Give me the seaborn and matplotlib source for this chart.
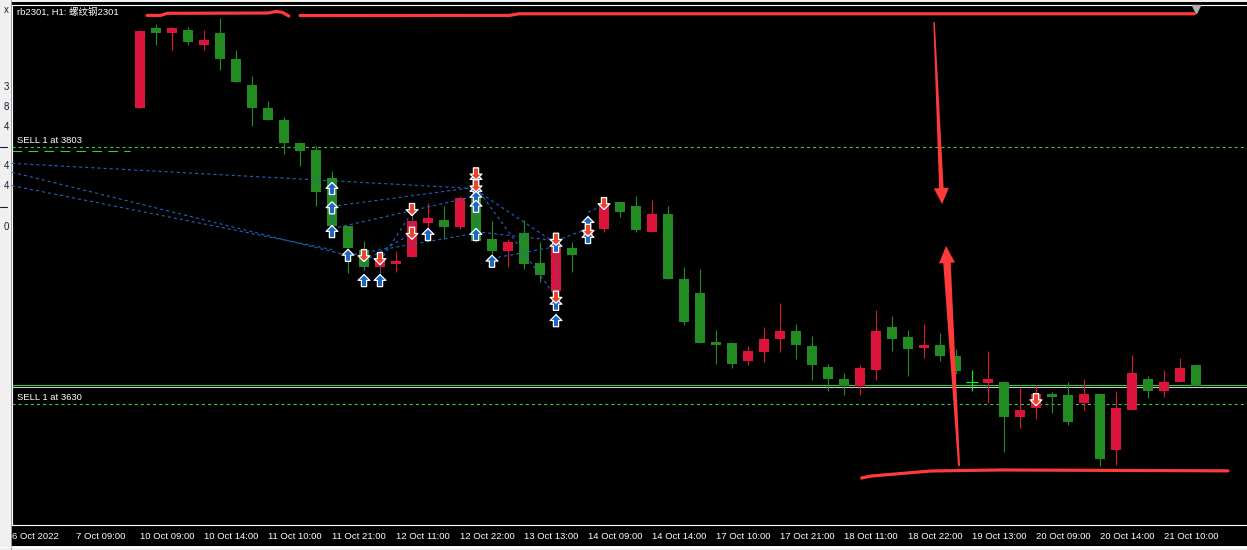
import numpy as np
import pandas as pd
import matplotlib
matplotlib.use("Agg")
import matplotlib.pyplot as plt
from matplotlib.patches import Rectangle, Polygon
from matplotlib.lines import Line2D
import seaborn as sns

# =========================================================
# DATA (rb2301, H1)
# =========================================================

tick_labels = ["6 Oct 2022", "7 Oct 09:00", "10 Oct 09:00", "10 Oct 14:00",
               "11 Oct 10:00", "11 Oct 21:00", "12 Oct 11:00", "12 Oct 22:00",
               "13 Oct 13:00", "14 Oct 09:00", "14 Oct 14:00", "17 Oct 10:00",
               "17 Oct 21:00", "18 Oct 11:00", "18 Oct 22:00", "19 Oct 13:00",
               "20 Oct 09:00", "20 Oct 14:00", "21 Oct 10:00"]

opens = [3829, 3883, 3880, 3882, 3872, 3880, 3862, 3845, 3829, 3821, 3806, 3801,
         3782, 3750, 3734, 3722, 3724, 3729, 3752, 3754, 3749, 3769, 3741, 3733,
         3745, 3725, 3706, 3735, 3744, 3748, 3766, 3763, 3746, 3758, 3714, 3705,
         3672, 3671, 3659, 3665, 3674, 3679, 3669, 3655, 3647, 3642, 3653, 3682,
         3675, 3668, 3670, 3662, 3645, 3644, 3645, 3621, 3627, 3637, 3636, 3631,
         3637, 3599, 3626, 3647, 3639, 3645, 3656]
highs = [3882, 3886, 3884, 3884, 3882, 3890, 3868, 3851, 3834, 3823, 3806, 3804,
         3787, 3750, 3740, 3729, 3733, 3757, 3765, 3763, 3770, 3772, 3753, 3741,
         3754, 3739, 3740, 3739, 3753, 3767, 3766, 3770, 3767, 3763, 3722, 3721,
         3680, 3671, 3669, 3682, 3698, 3684, 3676, 3657, 3651, 3656, 3693, 3689,
         3680, 3684, 3678, 3667, 3653, 3666, 3645, 3641, 3643, 3638, 3645, 3647,
         3637, 3639, 3663, 3649, 3653, 3661, 3656]
lows = [3829, 3872, 3868, 3872, 3868, 3855, 3847, 3817, 3821, 3798, 3790, 3763,
        3750, 3718, 3720, 3720, 3719, 3729, 3741, 3741, 3748, 3739, 3729, 3722,
        3721, 3712, 3697, 3719, 3741, 3746, 3756, 3746, 3746, 3714, 3683, 3671,
        3657, 3654, 3656, 3658, 3665, 3660, 3646, 3639, 3636, 3636, 3646, 3666,
        3649, 3661, 3659, 3650, 3639, 3631, 3598, 3614, 3620, 3624, 3616, 3626,
        3588, 3589, 3626, 3634, 3635, 3645, 3642]
closes = [3881, 3880, 3883, 3874, 3875, 3862, 3847, 3829, 3821, 3806, 3800, 3773,
          3750, 3735, 3722, 3727, 3726, 3753, 3755, 3749, 3769, 3740, 3733, 3739,
          3724, 3717, 3736, 3730, 3748, 3764, 3759, 3747, 3758, 3714, 3685, 3671,
          3670, 3657, 3666, 3674, 3679, 3670, 3656, 3647, 3642, 3654, 3679, 3674,
          3667, 3670, 3662, 3652, 3645, 3647, 3621, 3626, 3637, 3635, 3618, 3637,
          3593, 3627, 3651, 3639, 3645, 3654, 3642]

# trade arrows (bar index, price)
buy_bars = [12, 12, 12, 13, 14, 15, 18, 21, 21, 21, 21, 21, 22, 26, 26, 26, 28, 28]
buy_prices = [3775, 3762, 3746, 3730, 3713, 3713, 3744, 3781, 3773, 3769, 3763,
              3744, 3726, 3736, 3697, 3686, 3752, 3742]
sell_bars = [14, 15, 17, 17, 21, 21, 26, 26, 28, 29, 56]
sell_prices = [3730, 3728, 3761, 3745, 3785, 3777, 3741, 3702, 3747, 3765, 3633]

# trade history lines: (bar from, price from, bar to, price to)
trade_lines = [(-8, 3792, 21, 3775), (-8, 3786, 13, 3730), (-8, 3777, 12, 3734),
               (12, 3748, 21, 3770), (12, 3763, 21, 3776), (13, 3730, 21, 3745),
               (14, 3726, 17, 3745), (15, 3726, 17, 3759), (21, 3776, 26, 3702),
               (21, 3774, 26, 3738), (21, 3746, 26, 3740), (22, 3728, 26, 3736),
               (26, 3740, 28, 3748), (28, 3759, 29, 3764),
               (12, 3775, 12, 3746), (14, 3730, 14, 3713), (15, 3728, 15, 3713),
               (17, 3761, 17, 3745), (21, 3785, 21, 3744), (26, 3741, 26, 3686),
               (28, 3757, 28, 3742)]

sell_levels = [3803, 3630]
bid_price = 3641.5
ask_price = 3643

# hand drawn red marks (bar, price)
red_top1_x = [0.44, 1.3, 1.7, 8.0, 8.5, 8.9, 9.3]
red_top1_y = [3891.6, 3891.6, 3893.0, 3893.2, 3894.3, 3893.6, 3891.2]
red_top2_x = [10.0, 23.1, 23.7, 65.9]
red_top2_y = [3891.5, 3891.6, 3892.7, 3892.7]
red_bot_x = [45.1, 45.7, 49.4, 53.8, 68.0]
red_bot_y = [3580.2, 3581.5, 3584.9, 3585.6, 3585.0]

# =========================================================
# STYLE
# =========================================================

sns.set_theme(style="dark", rc={"axes.facecolor": "black", "figure.facecolor": "#f0f0f0"})
plt.rcParams["font.family"] = ["Liberation Sans", "Noto Sans CJK SC", "DejaVu Sans"]
plt.rcParams["lines.scale_dashes"] = False

RED = "#DC143C"
GREEN = "#228B22"
LIME = "#00FF00"
BLUE = "#1F66C4"
SELLC = "#E8462A"
MARK = "#FF3A3A"
W, H = 1247, 550

fig = plt.figure(figsize=(W / 100, H / 100), dpi=100)
fig.add_artist(Rectangle((11 / W, 4 / H), 1, 544 / H, transform=fig.transFigure,
                         facecolor="black", edgecolor="none", zorder=-2))
fig.add_artist(Line2D([10.5 / W] * 2, [0, 1], transform=fig.transFigure, color="#a0a0a0", lw=0.7))
fig.add_artist(Line2D([0, 1], [3.5 / H] * 2, transform=fig.transFigure, color="white", lw=0.8))

ax = fig.add_axes([12 / W, 25 / H, (W - 12) / W, 520 / H])
ax.set_facecolor("black")
ax.set_xlim(-8, -8 + (W - 12) / 16)
ax.set_ylim(3548.55, 3898.6)

# =========================================================
# CANDLES
# =========================================================

df = pd.DataFrame({"open": opens, "high": highs, "low": lows, "close": closes})
df["bar"] = np.arange(len(df))
df["color"] = np.where(df.close > df.open, RED, np.where(df.close < df.open, GREEN, LIME))

ax.vlines(df.bar, df.low, df.high, colors=df.color, lw=0.8, zorder=2)
body = df[df.close != df.open]
ax.bar(body.bar, np.maximum((body.close - body.open).abs(), 0.9),
       bottom=np.minimum(body.open, body.close), width=0.66, color=body.color,
       lw=0, zorder=3)
doji = df[df.close == df.open]
ax.hlines(doji.close, doji.bar - 0.36, doji.bar + 0.36, colors=LIME, lw=0.8, zorder=3)

# =========================================================
# LEVELS AND TRADES
# =========================================================

for lvl in sell_levels:
    ax.axhline(lvl, color="#3ACF3A", lw=0.8, ls=(0, (2.2, 2.2)), zorder=1)
    ax.text(-7.7, lvl + 1.6, f"SELL 1 at {lvl}", color="white", fontsize=6.8,
            va="bottom", ha="left", zorder=6)
ax.plot([-8, -0.6], [3800.3, 3800.3], color="#3ACF3A", lw=0.8, ls=(0, (7, 4.5)), zorder=1)

ax.axhline(ask_price, color="#32CD32", lw=0.8, zorder=1.5)
ax.axhline(bid_price, color="#C8C8C8", lw=0.8, zorder=1.5)

for b0, p0, b1, p1 in trade_lines:
    ax.plot([b0, b1], [p0, p1], color=BLUE, lw=0.8, ls=(0, (2.2, 2.2)), zorder=4)

up_arrow = [(0, 1), (0.95, 0.05), (0.42, 0.05), (0.42, -0.95), (-0.42, -0.95),
            (-0.42, 0.05), (-0.95, 0.05), (0, 1)]
down_arrow = [(x, -y) for x, y in up_arrow]

trades = pd.concat([
    pd.DataFrame({"bar": buy_bars, "price": buy_prices, "side": "buy"}),
    pd.DataFrame({"bar": sell_bars, "price": sell_prices, "side": "sell"}),
])
sns.scatterplot(data=trades, x="bar", y="price", hue="side", style="side",
                palette={"buy": BLUE, "sell": SELLC},
                markers={"buy": up_arrow, "sell": down_arrow},
                s=80, edgecolor="white", linewidth=0.9, legend=False, ax=ax, zorder=5)
ax.set_xlabel("")
ax.set_ylabel("")

ax.plot([66], [0.992], marker="v", color="#b0b0b0", ms=6,
        transform=ax.get_xaxis_transform(), clip_on=False, zorder=6)

# =========================================================
# RED HAND-DRAWN MARKS
# =========================================================

for xs, ys in [(red_top1_x, red_top1_y), (red_top2_x, red_top2_y), (red_bot_x, red_bot_y)]:
    ax.plot(xs, ys, color=MARK, lw=2.3, solid_capstyle="round", zorder=7)

fig.canvas.draw()


def tapered_arrow(tail, tip, w_tail, w_base, head_w, head_len):
    t, p = ax.transData.transform([tail, tip])
    d = (p - t) / np.linalg.norm(p - t)
    n = np.array([-d[1], d[0]])
    base = p - d * head_len
    pts = [t + n * w_tail / 2, base + n * w_base / 2, base + n * head_w / 2, p,
           base - n * head_w / 2, base - n * w_base / 2, t - n * w_tail / 2]
    data_pts = ax.transData.inverted().transform(pts)
    ax.add_patch(Polygon(data_pts, closed=True, facecolor=MARK, edgecolor="none", zorder=7))


tapered_arrow((49.63, 3887.1), (50.13, 3764.6), 1.5, 4.5, 15, 16)
tapered_arrow((51.19, 3588.3), (50.375, 3736.4), 2.0, 7.5, 16, 17)

# =========================================================
# AXES / TEXT
# =========================================================

ax.set_xticks(np.arange(-8, -8 + 4 * len(tick_labels), 4))
ax.set_xticklabels(tick_labels, ha="left", fontsize=6.8, color="white")
ax.tick_params(axis="x", direction="out", length=3.5, width=0.8, color="white", pad=1.5)
ax.set_yticks([])
ax.grid(False)
for side in ["left", "top", "bottom"]:
    ax.spines[side].set_color("white")
    ax.spines[side].set_linewidth(0.8)
ax.spines["right"].set_visible(False)

ax.text(5 / 1235, 1 - 7 / 520, "rb2301, H1: 螺纹钢2301", transform=ax.transAxes,
        color="white", fontsize=6.8, va="center", ha="left", zorder=8)

# fragments of the neighbouring panel on the left
for ch, ypx in [("x", 10), ("3", 87), ("8", 107), ("4", 127),
                ("4", 166), ("4", 186), ("0", 227)]:
    fig.text(9 / W, 1 - ypx / H, ch, ha="right", va="center", fontsize=7, color="#1a1a3a")
for ypx in [147, 207]:
    fig.add_artist(Line2D([0, 7 / W], [1 - ypx / H] * 2, transform=fig.transFigure,
                          color="#1a1a3a", lw=0.8))

fig.savefig("out.png", dpi=100, facecolor=fig.get_facecolor())
